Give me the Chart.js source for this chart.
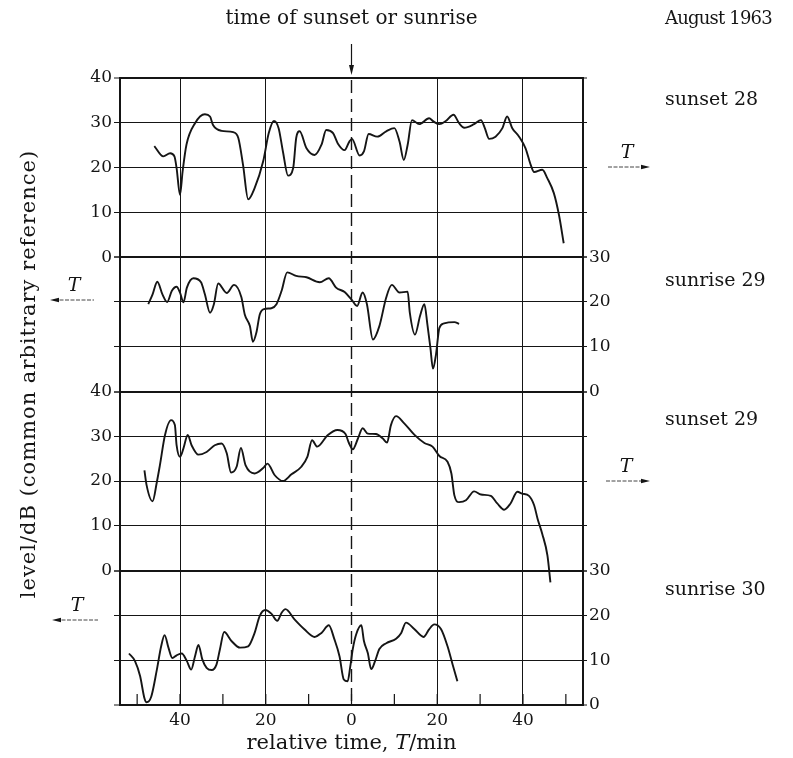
<!DOCTYPE html>
<html>
<head>
<meta charset="utf-8">
<script src="https://cdn.jsdelivr.net/npm/chart.js@4/dist/chart.umd.min.js"></script>
<style>
  html, body { margin: 0; padding: 0; background: #fff; }
  canvas { display: block; }
</style>
</head>
<body>
<canvas id="levels" width="793" height="758"></canvas>
<script>
// minutes from the event, left of centre negative
const sunset28Time = [-46.0, -43.9, -42.3, -41.3, -40.8, -40.0, -39.4, -38.5, -36.5, -34.2,
  -33.0, -32.3, -30.3, -27.6, -26.4, -25.3, -24.1, -22.6, -20.6, -19.3,
  -18.1, -17.0, -16.0, -14.8, -13.6, -12.9, -12.1, -10.5, -8.6, -7.0,
  -5.9, -4.3, -3.2, -1.6, -0.5, 0.1, 1.9, 2.9, 4.0, 6.0,
  8.1, 10.0, 11.2, 12.2, 13.1, 14.1, 15.8, 18.1, 19.1, 20.5,
  22.0, 23.8, 25.1, 26.3, 28.6, 30.2, 31.1, 32.1, 33.6, 35.2,
  36.3, 37.5, 39.1, 40.6, 41.8, 42.6, 44.5, 45.7, 47.2, 48.4,
  49.5];
const sunset28Level = [24.8, 22.5, 23.2, 22.5, 19.9, 13.9, 19.1, 25.1, 29.9, 31.9,
  31.4, 29.5, 28.2, 27.9, 26.6, 20.6, 12.9, 15.4, 21.4, 27.7,
  30.4, 28.8, 23.6, 18.2, 19.9, 26.6, 28.1, 24.3, 22.8, 25.1,
  28.4, 27.7, 25.4, 23.9, 25.8, 26.4, 22.7, 23.6, 27.5, 26.9,
  28.1, 28.8, 25.8, 21.7, 25.1, 30.6, 29.7, 31.0, 30.3, 29.7,
  30.4, 31.8, 29.9, 28.9, 29.7, 30.6, 28.8, 26.4, 26.9, 28.8,
  31.4, 28.8, 26.9, 24.3, 20.6, 19.0, 19.5, 17.6, 14.3, 9.4,
  3.1];

const sunrise29Time = [-47.4, -46.4, -45.3, -44.1, -43.0, -41.9, -40.8, -40.0, -39.2, -38.4,
  -36.9, -35.1, -34.2, -33.0, -32.1, -31.1, -29.1, -27.4, -25.7, -24.9,
  -23.7, -23.0, -22.2, -21.4, -20.4, -18.7, -17.5, -16.3, -15.0, -12.9,
  -10.5, -7.4, -5.3, -3.6, -1.6, 0.1, 1.3, 2.6, 3.6, 5.0,
  6.5, 8.1, 9.4, 11.2, 13.1, 13.6, 14.8, 16.0, 17.0, 17.7,
  18.4, 19.0, 19.7, 20.5, 21.6, 24.0, 25.1];
const sunrise29Level = [19.5, 21.7, 24.5, 21.7, 20.0, 22.5, 23.4, 22.1, 19.9, 23.2,
  25.3, 24.4, 21.7, 17.6, 19.5, 24.1, 22.0, 23.8, 21.1, 17.2,
  14.6, 11.1, 13.1, 17.2, 18.4, 18.6, 19.5, 22.5, 26.6, 25.8,
  25.5, 24.4, 25.3, 23.2, 22.2, 20.4, 19.1, 22.1, 19.5, 11.6,
  14.6, 21.0, 23.8, 22.1, 22.3, 17.6, 12.7, 16.9, 19.5, 15.0,
  9.8, 5.1, 8.2, 14.2, 15.2, 15.5, 15.1];

const sunset29Time = [-48.3, -47.8, -46.4, -45.4, -44.7, -43.5, -42.1, -41.2, -40.8, -40.0,
  -39.2, -38.2, -37.3, -35.7, -33.8, -31.9, -30.3, -29.1, -28.1, -26.8,
  -25.8, -24.7, -22.6, -20.6, -19.6, -17.9, -16.0, -14.0, -11.7, -10.3,
  -9.2, -8.0, -5.5, -3.3, -1.4, -0.6, 0.3, 1.5, 2.6, 3.8,
  5.7, 7.3, 8.3, 9.2, 10.4, 12.3, 14.7, 17.0, 18.9, 20.5,
  22.4, 23.3, 24.0, 25.1, 26.7, 28.6, 30.2, 32.5, 34.0, 35.6,
  37.1, 38.7, 39.8, 41.4, 42.6, 43.4, 44.5, 45.7, 46.4];
const sunset29Level = [22.4, 19.1, 15.5, 19.8, 23.5, 30.3, 33.6, 32.5, 28.0, 25.4,
  27.3, 30.3, 28.0, 25.9, 26.5, 28.0, 28.4, 26.2, 21.9, 23.2,
  27.4, 23.5, 21.7, 22.9, 23.9, 21.3, 20.0, 21.5, 23.2, 25.4,
  29.1, 27.7, 30.3, 31.4, 30.5, 28.5, 27.1, 29.5, 31.8, 30.6,
  30.5, 29.5, 28.6, 32.5, 34.5, 32.9, 30.3, 28.5, 27.7, 25.6,
  24.3, 21.7, 16.8, 15.3, 15.7, 17.7, 17.0, 16.7, 15.0, 13.6,
  15.0, 17.6, 17.2, 16.7, 14.6, 11.6, 8.2, 3.4, -2.6];

const sunrise30Time = [-51.9, -50.5, -49.3, -48.3, -47.8, -46.7, -45.4, -44.4, -43.6, -42.7,
  -41.8, -40.8, -39.6, -38.4, -37.4, -36.5, -35.7, -34.8, -33.8, -32.6,
  -31.5, -30.7, -29.7, -28.0, -26.0, -24.1, -22.6, -21.4, -20.1, -18.7,
  -17.3, -16.3, -15.4, -13.3, -11.0, -8.6, -7.0, -5.3, -4.0, -2.8,
  -1.8, -0.9, -0.3, 0.3, 1.1, 2.3, 2.9, 3.8, 4.6, 5.5,
  6.5, 8.1, 10.4, 11.6, 12.7, 14.7, 16.8, 18.1, 19.3, 20.9,
  22.4, 23.6, 24.7];
const sunrise30Level = [11.5, 9.8, 6.4, 1.5, 0.6, 1.9, 7.9, 13.1, 15.6, 12.8,
  10.5, 11.1, 11.5, 9.8, 7.9, 10.9, 13.4, 10.2, 8.3, 7.8,
  9.0, 12.4, 16.3, 14.3, 12.8, 13.1, 16.1, 19.9, 21.2, 20.4,
  18.8, 20.6, 21.4, 19.1, 16.9, 15.2, 16.1, 17.8, 14.7, 10.9,
  5.7, 5.3, 8.5, 12.5, 15.8, 17.8, 14.3, 11.6, 8.0, 9.8,
  12.5, 13.8, 14.8, 16.1, 18.4, 16.9, 15.2, 16.9, 18.0, 16.9,
  13.1, 9.0, 5.3];

const minuteTicks = [-50, -40, -30, -20, -10, 0, 10, 20, 30, 40, 50];
const panelNames = ['sunset 28', 'sunrise 29', 'sunset 29', 'sunrise 30'];
const panelMax = [40, 30, 40, 30];

const SERIF = '"DejaVu Serif", "Liberation Serif", serif';
const INK = '#151515';

function points(times, levels) {
  return times.map((t, i) => ({ x: t, y: levels[i] }));
}

// one y axis per panel on each side; the side carrying labels also draws the grid
function panelAxis(side, panel, labelled) {
  const max = panelMax[panel];
  return {
    type: 'linear',
    position: side,
    stack: side,
    stackWeight: max / 10,
    weight: side === 'left' ? 4 - panel : panel + 1,
    min: 0,
    max: max,
    ticks: {
      stepSize: 10,
      color: labelled ? INK : 'rgba(0,0,0,0)',
      font: { family: SERIF, size: 17 },
      padding: 2
    },
    grid: {
      drawOnChartArea: labelled,
      color: INK,
      lineWidth: ctx => (ctx.tick && (ctx.tick.value === 0 || ctx.tick.value === max)) ? 2 : 1,
      tickLength: side === 'left' ? 6 : 4,
      tickColor: INK,
      tickWidth: 1
    },
    border: { color: INK, width: 2 },
    afterFit: scale => { scale.width = side === 'left' ? 120 : 210; }
  };
}

function line(ctx, x1, y1, x2, y2) {
  ctx.beginPath();
  ctx.moveTo(x1, y1);
  ctx.lineTo(x2, y2);
  ctx.stroke();
}

function arrowHead(ctx, x, y, dir, len, half) {
  // dir: 1 right, -1 left, 2 down
  ctx.beginPath();
  if (dir === 2) {
    ctx.moveTo(x, y);
    ctx.lineTo(x - half, y - len);
    ctx.lineTo(x + half, y - len);
  } else {
    ctx.moveTo(x, y);
    ctx.lineTo(x - dir * len, y - half);
    ctx.lineTo(x - dir * len, y + half);
  }
  ctx.closePath();
  ctx.fill();
}

// italic T above a thin arrow showing which way time runs
function timeArrow(ctx, x1, x2, y, dir) {
  ctx.strokeStyle = '#444';
  ctx.lineWidth = 1;
  ctx.setLineDash([4, 1.5]);
  line(ctx, x1, y, x2, y);
  ctx.setLineDash([]);
  ctx.fillStyle = INK;
  arrowHead(ctx, dir > 0 ? x2 + 4 : x1 - 4, y, dir, 9, 2.2);
  ctx.font = 'italic 19px ' + SERIF;
  ctx.textAlign = 'center';
  ctx.textBaseline = 'alphabetic';
  ctx.fillText('T', (x1 + x2) / 2, y - 9);
}

const annotations = {
  id: 'annotations',
  afterDraw(chart) {
    const { ctx, chartArea: a, scales } = chart;
    const x0 = scales.x.getPixelForValue(0);
    ctx.save();
    ctx.strokeStyle = INK;
    ctx.fillStyle = INK;

    // short minute ticks rising from the bottom edge
    ctx.lineWidth = 1.2;
    minuteTicks.forEach(v => {
      const px = scales.x.getPixelForValue(v);
      line(ctx, px, a.bottom, px, a.bottom - 11);
    });

    // dashed line at the moment of sunset / sunrise
    ctx.lineWidth = 1.4;
    ctx.setLineDash([13, 6]);
    line(ctx, x0, a.top + 2, x0, a.bottom);
    ctx.setLineDash([]);
    ctx.lineWidth = 1.2;
    line(ctx, x0, 44, x0, 66);
    arrowHead(ctx, x0, 75, 2, 10, 2.5);

    ctx.textBaseline = 'alphabetic';
    ctx.textAlign = 'center';
    ctx.font = '20px ' + SERIF;
    ctx.fillText('time of sunset or sunrise', x0, 24);
    ctx.textAlign = 'left';
    ctx.font = '18px ' + SERIF;
    ctx.letterSpacing = '-0.8px';
    ctx.fillText('August 1963', 665, 24);
    ctx.letterSpacing = '0px';

    // panel names on the right
    const nameY = [100, 281, 420, 590];
    ctx.font = '19px ' + SERIF;
    ctx.textBaseline = 'middle';
    panelNames.forEach((name, i) => ctx.fillText(name, 665, nameY[i]));

    timeArrow(ctx, 608, 646, 167, 1);
    timeArrow(ctx, 606, 646, 481, 1);
    timeArrow(ctx, 54, 94, 300, -1);
    timeArrow(ctx, 56, 98, 620, -1);

    // axis titles
    ctx.fillStyle = INK;
    ctx.font = '21px ' + SERIF;
    ctx.textBaseline = 'middle';
    ctx.textAlign = 'center';
    ctx.save();
    ctx.translate(30, 374);
    ctx.rotate(-Math.PI / 2);
    ctx.letterSpacing = '1px';
    ctx.fillText('level/dB (common arbitrary reference)', 0, 0);
    ctx.restore();

    const parts = [['relative time, ', '21px '], ['T', 'italic 21px '], ['/min', '21px ']];
    let total = 0;
    parts.forEach(p => { ctx.font = p[1] + SERIF; total += ctx.measureText(p[0]).width; });
    let cx = x0 - total / 2;
    ctx.textAlign = 'left';
    ctx.textBaseline = 'alphabetic';
    parts.forEach(p => {
      ctx.font = p[1] + SERIF;
      ctx.fillText(p[0], cx, 749);
      cx += ctx.measureText(p[0]).width;
    });
    ctx.restore();
  }
};

const traceStyle = {
  borderColor: INK,
  borderWidth: 1.9,
  pointRadius: 0,
  fill: false,
  clip: false,
  cubicInterpolationMode: 'monotone'
};

new Chart(document.getElementById('levels'), {
  type: 'line',
  data: {
    datasets: [
      { ...traceStyle, label: panelNames[0], data: points(sunset28Time, sunset28Level), yAxisID: 'yL1' },
      { ...traceStyle, label: panelNames[1], data: points(sunrise29Time, sunrise29Level), yAxisID: 'yR2' },
      { ...traceStyle, label: panelNames[2], data: points(sunset29Time, sunset29Level), yAxisID: 'yL3' },
      { ...traceStyle, label: panelNames[3], data: points(sunrise30Time, sunrise30Level), yAxisID: 'yR4' }
    ]
  },
  options: {
    responsive: false,
    animation: false,
    layout: { padding: { top: 78, left: 0, right: 0, bottom: 0 } },
    plugins: { legend: { display: false }, tooltip: { enabled: false } },
    scales: {
      x: {
        type: 'linear',
        min: -54,
        max: 54,
        afterBuildTicks: scale => { scale.ticks = minuteTicks.map(v => ({ value: v })); },
        ticks: {
          autoSkip: false,
          maxRotation: 0,
          padding: 5,
          color: INK,
          font: { family: SERIF, size: 17 },
          callback: v => (v % 20 === 0 ? String(Math.abs(v)) : '')
        },
        grid: {
          drawTicks: false,
          lineWidth: 1,
          color: ctx => (ctx.tick && ctx.tick.value % 20 === 0 && ctx.tick.value !== 0) ? INK : 'rgba(0,0,0,0)'
        },
        border: { color: INK, width: 2 },
        afterFit: scale => { scale.height = 53; }
      },
      yL1: panelAxis('left', 0, true),
      yL2: panelAxis('left', 1, false),
      yL3: panelAxis('left', 2, true),
      yL4: panelAxis('left', 3, false),
      yR1: panelAxis('right', 0, false),
      yR2: panelAxis('right', 1, true),
      yR3: panelAxis('right', 2, false),
      yR4: panelAxis('right', 3, true)
    }
  },
  plugins: [annotations]
});
</script>
</body>
</html>
